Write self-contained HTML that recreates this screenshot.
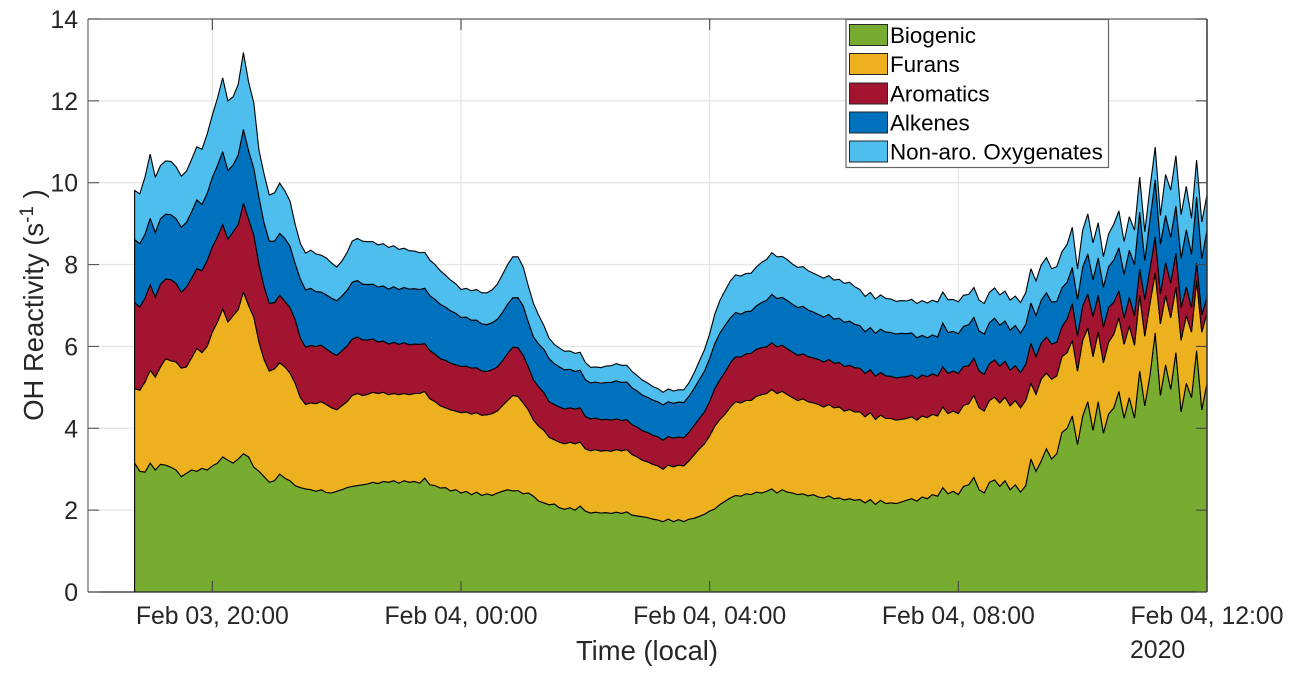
<!DOCTYPE html>
<html>
<head>
<meta charset="utf-8">
<title>OH Reactivity stacked area chart</title>
<style>
html,body{margin:0;padding:0;background:#fff;width:1296px;height:677px;overflow:hidden}
svg{display:block}
text{font-family:"Liberation Sans",Arial,sans-serif}
</style>
</head>
<body>
<svg id="chart" width="1296" height="677" viewBox="0 0 1296 677" xmlns="http://www.w3.org/2000/svg">
  <rect x="0" y="0" width="1296" height="677" fill="#ffffff"/>
  <g id="grid"></g>
  <g id="areas"></g>
  <g id="axes"></g>
  <text x="647" y="660" font-size="27.4" fill="#262626" text-anchor="middle">Time (local)</text>
  <text x="1130" y="658" font-size="24.8" fill="#262626">2020</text>
  <text transform="translate(43,305) rotate(-90)" font-size="27.4" fill="#262626" text-anchor="middle">OH Reactivity (s<tspan font-size="19" dy="-10">-1</tspan><tspan dy="10"> )</tspan></text>
  <g>
    <rect x="846" y="19.5" width="262.5" height="148" fill="#ffffff" stroke="#666666" stroke-width="1.2"/>
    <g>
      <rect x="849.5" y="24.5" width="38" height="21" fill="#77AC30" stroke="#262626" stroke-width="1"/>
      <text x="890" y="43" font-size="22.4" fill="#000">Biogenic</text>
    </g>
    <g>
      <rect x="849.5" y="53.5" width="38" height="21" fill="#EDB120" stroke="#262626" stroke-width="1"/>
      <text x="890" y="72" font-size="22.4" fill="#000">Furans</text>
    </g>
    <g>
      <rect x="849.5" y="83" width="38" height="21" fill="#A2142F" stroke="#262626" stroke-width="1"/>
      <text x="890" y="101.5" font-size="22.4" fill="#000">Aromatics</text>
    </g>
    <g>
      <rect x="849.5" y="112" width="38" height="21" fill="#0072BD" stroke="#262626" stroke-width="1"/>
      <text x="890" y="130.5" font-size="22.4" fill="#000">Alkenes</text>
    </g>
    <g>
      <rect x="849.5" y="141" width="38" height="21" fill="#4DBEEE" stroke="#262626" stroke-width="1"/>
      <text x="890" y="159.5" font-size="22.4" fill="#000">Non-aro. Oxygenates</text>
    </g>
  </g>
</svg>
<script>
// Time of first sample and sampling step, in minutes relative to Feb 03 20:00
const startMinute = -75;
const stepMinutes = 5;

// OH reactivity layer thickness per sample (s^-1)
const biogenic = [
3.15,2.95,2.93,3.15,2.98,3.12,3.1,3.05,2.98,2.82,
2.9,2.98,2.95,3.02,2.98,3.08,3.15,3.3,3.22,3.15,
3.25,3.38,3.3,3.05,2.95,2.82,2.68,2.72,2.88,2.78,
2.72,2.6,2.55,2.52,2.5,2.46,2.5,2.43,2.42,2.46,
2.5,2.55,2.58,2.6,2.62,2.64,2.68,2.65,2.7,2.68,
2.72,2.66,2.72,2.68,2.7,2.66,2.78,2.62,2.6,2.54,
2.55,2.47,2.5,2.42,2.46,2.38,2.44,2.36,2.4,2.36,
2.42,2.46,2.5,2.47,2.48,2.4,2.42,2.34,2.22,2.18,
2.13,2.15,2.06,2.02,2.06,2.0,2.1,1.98,1.93,1.95,
1.93,1.94,1.92,1.95,1.92,1.96,1.88,1.86,1.84,1.82,
1.78,1.76,1.72,1.78,1.72,1.77,1.72,1.78,1.8,1.85,
1.9,1.98,2.03,2.14,2.22,2.3,2.36,2.34,2.4,2.38,
2.44,2.42,2.46,2.52,2.42,2.5,2.44,2.42,2.38,2.4,
2.35,2.38,2.32,2.3,2.35,2.28,2.3,2.25,2.28,2.24,
2.26,2.18,2.26,2.14,2.24,2.16,2.18,2.16,2.2,2.24,
2.28,2.22,2.32,2.28,2.38,2.34,2.55,2.4,2.46,2.38,
2.58,2.62,2.8,2.5,2.42,2.68,2.74,2.58,2.72,2.5,
2.62,2.44,2.6,3.25,2.95,3.2,3.5,3.25,3.38,3.9,
4.0,4.3,3.6,4.3,4.65,3.95,4.65,3.88,4.35,4.5,
4.9,4.25,4.75,4.25,5.4,4.55,5.3,6.33,4.8,5.55,
4.95,5.85,4.4,5.1,4.75,5.9,4.45,5.1];

const furans = [
1.82,1.98,2.2,2.27,2.27,2.38,2.6,2.6,2.64,2.65,
2.6,2.74,3.0,2.83,3.02,3.27,3.45,3.62,3.38,3.6,
3.65,3.95,3.7,3.67,3.15,2.86,2.72,2.73,2.72,2.72,
2.63,2.5,2.2,2.06,2.12,2.14,2.15,2.15,2.08,1.99,
2.05,2.1,2.22,2.25,2.18,2.19,2.2,2.2,2.18,2.14,
2.13,2.16,2.13,2.14,2.15,2.19,2.12,2.1,2.05,2.01,
1.95,1.98,1.92,1.96,1.94,1.97,1.94,1.96,1.93,2.0,
2.0,2.09,2.18,2.33,2.3,2.22,2.03,1.86,1.83,1.77,
1.65,1.57,1.6,1.6,1.6,1.62,1.56,1.52,1.52,1.53,
1.51,1.52,1.52,1.53,1.53,1.52,1.48,1.44,1.38,1.36,
1.34,1.32,1.28,1.32,1.34,1.33,1.36,1.42,1.55,1.65,
1.72,1.84,2.02,2.08,2.13,2.22,2.29,2.28,2.28,2.3,
2.34,2.4,2.39,2.43,2.43,2.4,2.38,2.33,2.3,2.32,
2.3,2.24,2.26,2.22,2.23,2.22,2.22,2.17,2.18,2.16,
2.14,2.1,2.12,2.08,2.08,2.08,2.06,2.04,2.02,2.0,
2.0,1.98,1.98,1.98,1.96,1.96,1.97,1.96,1.96,1.98,
1.98,1.98,2.0,2.0,2.0,2.0,2.02,2.04,2.04,2.05,
2.06,2.06,2.08,1.85,1.88,2.0,1.85,1.95,1.9,1.85,
1.85,1.85,1.8,1.85,1.8,1.8,1.7,1.72,1.75,1.8,
1.8,1.8,1.75,1.78,1.85,1.7,1.75,1.47,1.75,1.7,
1.75,1.6,1.75,1.65,1.6,1.7,1.9,1.72];

const aromatics = [
2.1,2.03,2.05,2.08,1.95,2.02,1.95,1.98,1.92,1.85,
1.95,1.95,1.95,2.0,2.1,2.08,2.08,2.06,2.02,2.05,
2.08,2.17,2.1,2.0,1.9,1.78,1.65,1.62,1.65,1.6,
1.6,1.55,1.45,1.4,1.4,1.4,1.38,1.36,1.35,1.33,
1.34,1.36,1.38,1.38,1.36,1.33,1.3,1.26,1.25,1.24,
1.25,1.23,1.24,1.22,1.21,1.2,1.17,1.18,1.16,1.15,
1.16,1.14,1.13,1.13,1.12,1.12,1.1,1.08,1.06,1.07,
1.08,1.1,1.15,1.18,1.19,1.16,1.05,0.98,0.96,0.92,
0.87,0.86,0.86,0.85,0.84,0.85,0.84,0.79,0.78,0.77,
0.77,0.76,0.76,0.75,0.74,0.73,0.73,0.73,0.72,0.72,
0.71,0.71,0.71,0.7,0.7,0.69,0.69,0.7,0.72,0.74,
0.78,0.84,0.92,0.97,1.03,1.08,1.1,1.12,1.14,1.15,
1.15,1.15,1.14,1.14,1.14,1.13,1.12,1.11,1.1,1.1,
1.1,1.1,1.1,1.1,1.1,1.09,1.09,1.09,1.08,1.08,
1.07,1.06,1.05,1.05,1.04,1.04,1.03,1.03,1.03,1.02,
1.02,1.01,1.0,1.0,0.99,0.98,0.98,0.98,0.98,0.98,
0.95,0.93,0.91,0.9,0.9,0.9,0.91,0.9,0.88,0.87,
0.85,0.86,0.88,0.98,0.92,0.88,0.88,0.86,0.82,0.73,
0.82,0.9,0.85,0.84,0.83,0.98,0.9,0.87,0.85,0.78,
0.66,0.64,0.7,0.72,0.64,0.9,0.85,0.88,0.73,0.8,
0.85,0.83,0.8,0.7,0.6,0.44,0.42,0.38];

const alkenes = [
1.54,1.55,1.56,1.63,1.58,1.6,1.58,1.59,1.58,1.59,
1.58,1.62,1.68,1.62,1.64,1.7,1.74,1.78,1.68,1.63,
1.7,1.8,1.68,1.63,1.64,1.55,1.52,1.5,1.51,1.54,
1.5,1.37,1.44,1.4,1.4,1.34,1.3,1.32,1.33,1.34,
1.34,1.36,1.39,1.38,1.36,1.35,1.34,1.34,1.35,1.34,
1.36,1.34,1.35,1.36,1.35,1.34,1.35,1.34,1.34,1.33,
1.3,1.28,1.26,1.2,1.2,1.17,1.16,1.15,1.14,1.15,
1.16,1.18,1.2,1.21,1.22,1.21,1.1,1.05,1.05,1.06,
1.05,1.0,0.98,0.96,0.94,0.92,0.92,0.9,0.88,0.88,
0.89,0.9,0.92,0.93,0.93,0.92,0.9,0.88,0.87,0.86,
0.86,0.86,0.86,0.85,0.85,0.85,0.86,0.88,0.9,0.95,
1.0,1.05,1.1,1.14,1.14,1.1,1.08,1.05,1.03,1.03,
1.06,1.1,1.14,1.18,1.18,1.17,1.18,1.17,1.17,1.16,
1.14,1.12,1.1,1.1,1.1,1.08,1.08,1.08,1.08,1.06,
1.04,1.02,1.03,1.05,1.06,1.07,1.07,1.07,1.07,1.05,
1.03,1.0,0.97,0.95,0.95,0.95,1.07,1.0,0.97,0.97,
0.98,1.0,1.0,0.98,0.98,1.0,1.02,1.0,0.98,0.98,
0.98,0.97,0.97,0.98,1.0,1.05,1.08,1.02,1.0,0.95,
0.9,0.88,0.9,0.95,0.98,0.9,0.91,0.98,1.0,1.03,
1.05,1.07,1.15,1.25,1.39,0.95,1.2,1.39,1.22,1.15,
1.12,1.15,1.2,1.4,1.3,1.61,1.37,1.64];

const oxygenates = [
1.2,1.22,1.4,1.57,1.35,1.3,1.3,1.3,1.27,1.25,
1.25,1.28,1.3,1.35,1.45,1.52,1.65,1.8,1.7,1.67,
1.72,1.88,1.68,1.6,1.15,1.2,1.13,1.18,1.23,1.16,
1.1,0.96,0.87,0.9,0.93,0.92,0.9,0.9,0.86,0.82,
0.85,0.92,1.0,1.03,1.05,1.05,1.04,1.03,1.03,1.02,
1.0,0.98,0.96,0.94,0.92,0.9,0.88,0.87,0.85,0.82,
0.78,0.75,0.72,0.68,0.7,0.72,0.75,0.76,0.78,0.8,
0.86,0.92,0.97,1.0,1.0,0.95,0.88,0.82,0.7,0.58,
0.5,0.47,0.46,0.45,0.45,0.44,0.44,0.42,0.38,0.37,
0.38,0.4,0.41,0.42,0.42,0.41,0.4,0.38,0.37,0.35,
0.33,0.32,0.31,0.31,0.3,0.3,0.31,0.33,0.38,0.45,
0.52,0.6,0.72,0.8,0.85,0.9,0.92,0.93,0.93,0.93,
0.95,0.98,1.0,1.02,1.02,1.0,1.0,0.98,0.98,0.97,
0.96,0.95,0.95,0.95,0.95,0.95,0.95,0.95,0.95,0.92,
0.88,0.86,0.86,0.84,0.84,0.82,0.82,0.8,0.8,0.8,
0.82,0.84,0.85,0.85,0.85,0.85,0.76,0.8,0.78,0.78,
0.76,0.74,0.73,0.75,0.75,0.74,0.74,0.74,0.73,0.73,
0.72,0.74,0.78,0.84,0.85,0.86,0.86,0.82,0.85,0.88,
0.92,0.98,0.74,0.9,0.98,0.9,0.86,0.74,0.8,0.88,
0.9,0.8,0.82,0.84,0.86,0.7,0.78,0.8,0.7,1.0,
1.15,1.23,1.07,1.06,0.88,0.9,0.9,0.86];

const seriesNames = ['biogenic','furans','aromatics','alkenes','non-aro-oxygenates'];
const seriesColors = ['#77AC30','#EDB120','#A2142F','#0072BD','#4DBEEE'];
const seriesValues = [biogenic, furans, aromatics, alkenes, oxygenates];

const yTicks = [0,2,4,6,8,10,12,14];
const xTickMinutes = [0,240,480,720,960];
const xTickLabels = ['Feb 03, 20:00','Feb 04, 00:00','Feb 04, 04:00','Feb 04, 08:00','Feb 04, 12:00'];

const NS = 'http://www.w3.org/2000/svg';
const plot = {left:88, right:1207, top:19, bottom:592};
const xMinMinute = -120, xMaxMinute = 960, yMin = 0, yMax = 14;
function xScale(m){ return plot.left + (m - xMinMinute) * (plot.right - plot.left) / (xMaxMinute - xMinMinute); }
function yScale(v){ return plot.bottom - (v - yMin) * (plot.bottom - plot.top) / (yMax - yMin); }
function make(tag, parent, attrs){
  const el = document.createElementNS(NS, tag);
  for (const k in attrs) el.setAttribute(k, attrs[k]);
  parent.appendChild(el);
  return el;
}

const gridLayer = document.getElementById('grid');
const areaLayer = document.getElementById('areas');
const axisLayer = document.getElementById('axes');

yTicks.forEach(function(t){
  if (t === 0 || t === 14) return;
  const line = make('line', gridLayer, {x1:plot.left, x2:plot.right, y1:yScale(t), y2:yScale(t), stroke:'#e6e6e6', 'stroke-width':1.4});
  
  
});
xTickMinutes.forEach(function(m){
  if (m === xMaxMinute) return;
  const line = make('line', gridLayer, {x1:xScale(m), x2:xScale(m), y1:plot.top, y2:plot.bottom, stroke:'#e6e6e6', 'stroke-width':1.4});
  
  
});

// stacked areas
const cumulative = biogenic.map(function(){ return 0; });
seriesValues.forEach(function(values, s){
  const lower = cumulative.slice();
  const upper = values.map(function(v, i){ return lower[i] + v; });
  const pts = [];
  upper.forEach(function(v, i){
    pts.push(xScale(startMinute + i * stepMinutes).toFixed(1) + ',' + yScale(v).toFixed(1));
  });
  for (let i = lower.length - 1; i >= 0; i--) {
    pts.push(xScale(startMinute + i * stepMinutes).toFixed(1) + ',' + yScale(lower[i]).toFixed(1));
  }
  const poly = make('polygon', areaLayer, {points:pts.join(' '), fill:seriesColors[s], stroke:'#000000', 'stroke-width':1.1, 'stroke-linejoin':'miter', 'stroke-miterlimit':3});
  
  
  upper.forEach(function(v, i){ cumulative[i] = v; });
});

// cover anything past the plot's right edge
const cover = make('rect', areaLayer, {x:plot.right, y:0, width:89, height:677, fill:'#ffffff'});



// axis box
const leftAxis = make('line', axisLayer, {x1:plot.left, x2:plot.left, y1:plot.top, y2:plot.bottom, stroke:'#6a6a6a', 'stroke-width':1.2});


const topAxis = make('line', axisLayer, {x1:plot.left, x2:plot.right, y1:plot.top, y2:plot.top, stroke:'#5a5a5a', 'stroke-width':1.2});


const bottomAxis = make('line', axisLayer, {x1:plot.left, x2:plot.right, y1:plot.bottom, y2:plot.bottom, stroke:'#262626', 'stroke-width':1.3});


const rightAxis = make('line', axisLayer, {x1:plot.right, x2:plot.right, y1:plot.top, y2:plot.bottom, stroke:'#333333', 'stroke-width':1.5});



yTicks.forEach(function(t){
  const y = yScale(t);
  const tl = make('line', axisLayer, {x1:plot.left, x2:plot.left + 11, y1:y, y2:y, stroke:'#555555', 'stroke-width':1.1});
  
  
  const tr = make('line', axisLayer, {x1:plot.right - 11, x2:plot.right, y1:y, y2:y, stroke:'#444444', 'stroke-width':1.1});
  
  
  const lab = make('text', axisLayer, {x:78, y:y + 9, 'font-size':24.8, fill:'#262626', 'text-anchor':'end'});
  
  
  lab.textContent = String(t);
});
xTickMinutes.forEach(function(m, i){
  const x = xScale(m);
  const tb = make('line', axisLayer, {x1:x, x2:x, y1:plot.bottom - 11, y2:plot.bottom, stroke:'#444444', 'stroke-width':1.1});
  
  
  const tt = make('line', axisLayer, {x1:x, x2:x, y1:plot.top, y2:plot.top + 11, stroke:'#444444', 'stroke-width':1.1});
  
  
  const lab = make('text', axisLayer, {x:x, y:624, 'font-size':24.8, fill:'#262626', 'text-anchor':'middle'});
  
  
  lab.textContent = xTickLabels[i];
});
</script>
</body>
</html>
